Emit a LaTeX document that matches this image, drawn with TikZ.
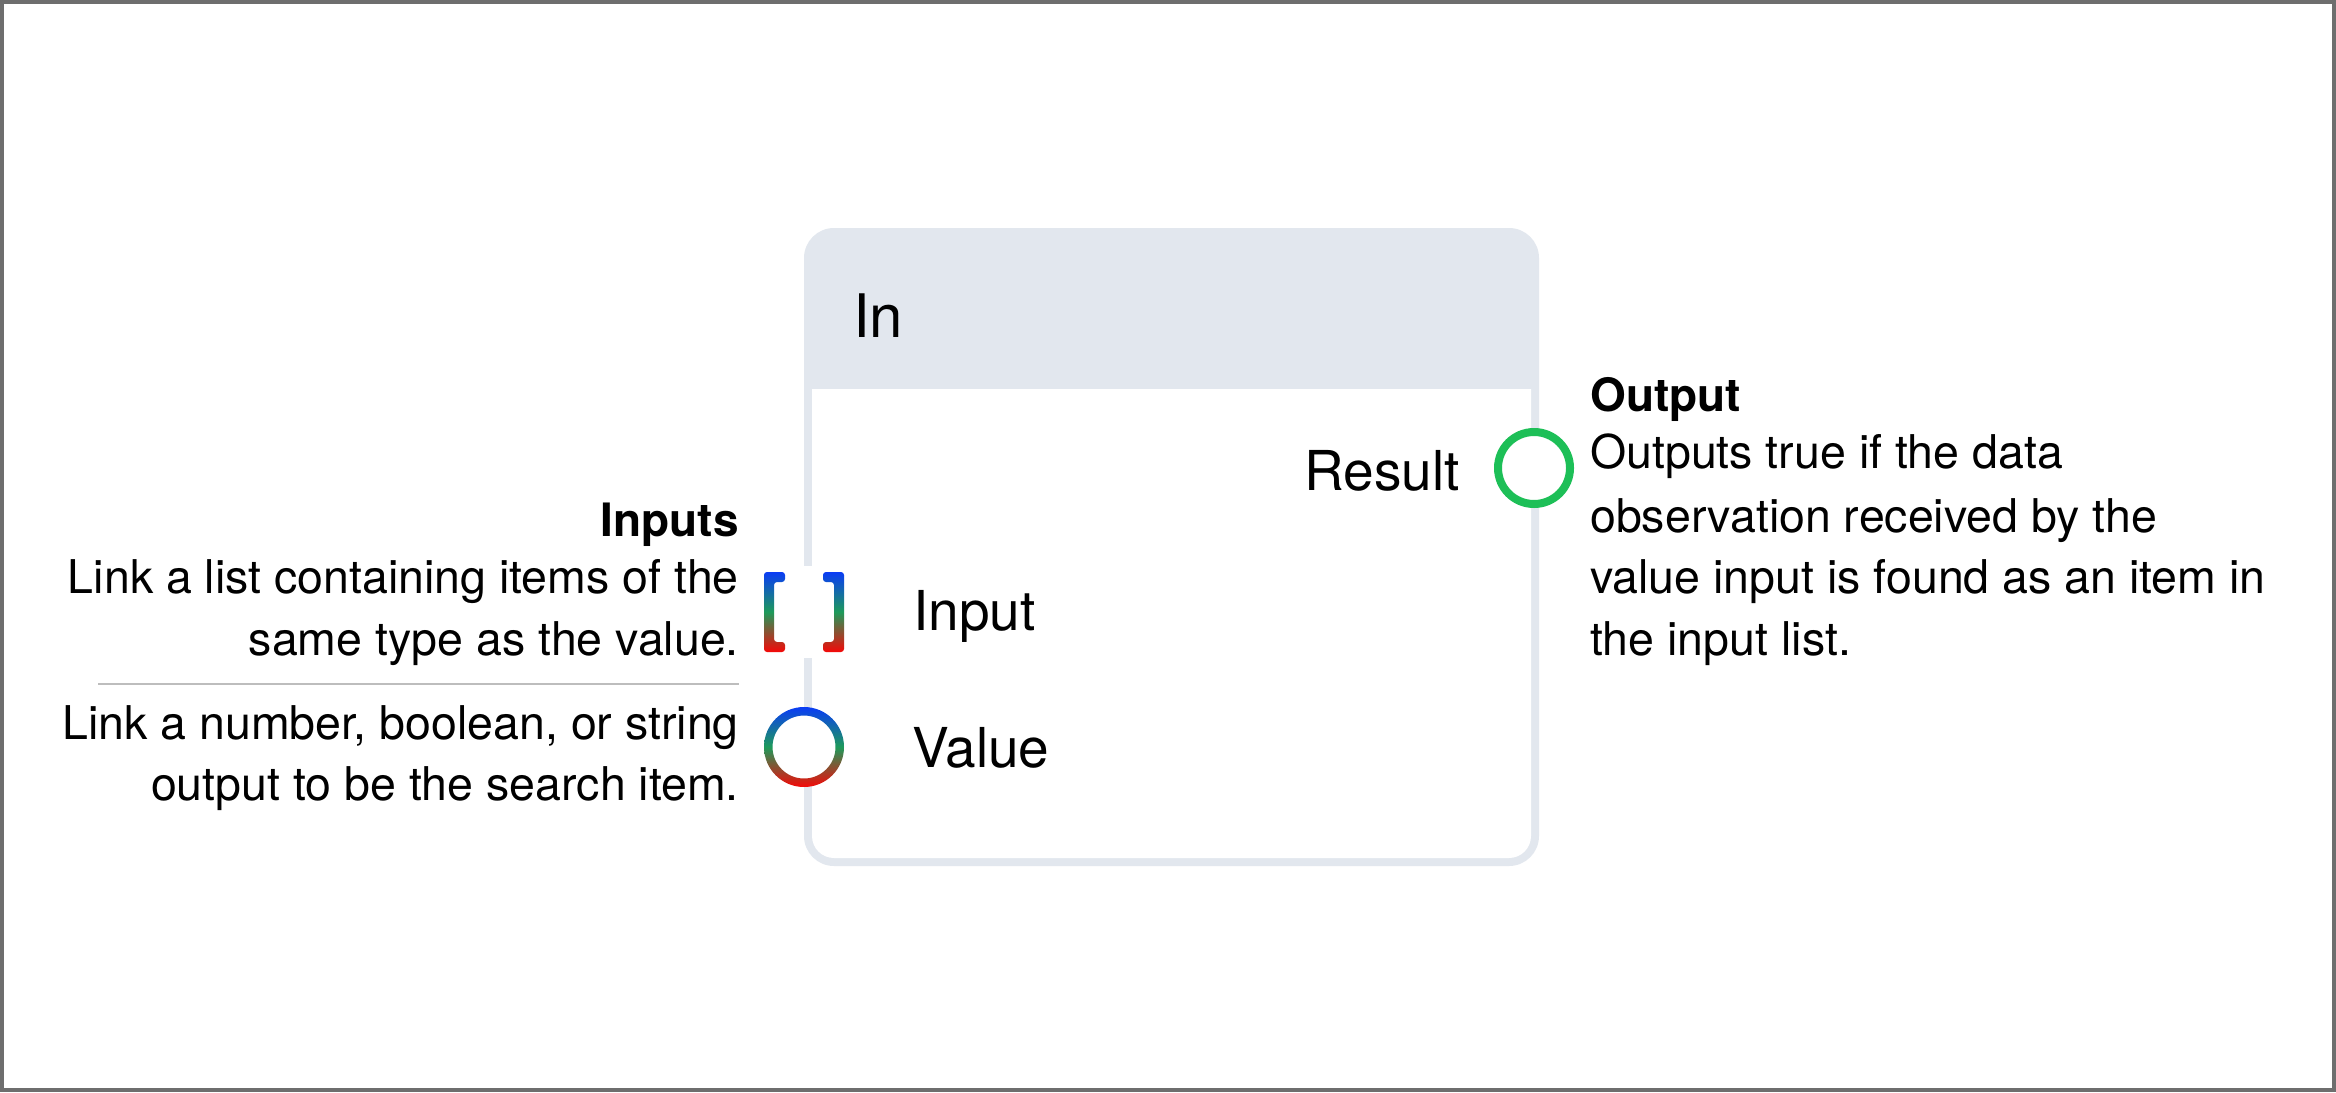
\documentclass[tikz,border=0pt]{standalone}
\usepackage{fontspec}
\setmainfont{TeX Gyre Heros}
\definecolor{framegray}{HTML}{6E6E6E}
\definecolor{hdr}{HTML}{E2E7EE}
\definecolor{pblue}{HTML}{0A3CF5}
\definecolor{pgreen}{HTML}{1E9A5A}
\definecolor{pred}{HTML}{F50808}
\definecolor{resgreen}{HTML}{1DBF57}
\definecolor{sepgray}{HTML}{BDBDBD}
\begin{document}
\begin{tikzpicture}[x=1pt,y=-1pt,
  lbl/.style={inner sep=0pt, font=\fontsize{55}{66}\selectfont},
  desc/.style={inner sep=0pt, font=\fontsize{46.5}{60}\selectfont},
  deschd/.style={inner sep=0pt, font=\fontsize{46}{60}\selectfont\bfseries},
  portgrad/.style={top color=pblue, bottom color=pred, middle color=pgreen}]
\useasboundingbox (0,0) rectangle (2336,1092);
\fill[white] (0,0) rectangle (2336,1092);
\draw[framegray, line width=4pt] (2,2) rectangle (2334,1090);

% node body
\fill[hdr, rounded corners=30pt] (804,228) rectangle (1539,866);
\fill[white] (812,389) -- (1531,389) [rounded corners=22pt] -- (1531,858) -- (812,858) [sharp corners] -- cycle;

% input port (list bracket)
\fill[white] (758,566) rectangle (850,658);
\shade[portgrad, rounded corners=3pt]
  (785,572) -- (764,572) -- (764,652) -- (785,652) -- (785,642) -- (774,642) -- (774,582) -- (785,582) -- cycle
  (823,572) -- (844,572) -- (844,652) -- (823,652) -- (823,642) -- (834,642) -- (834,582) -- (823,582) -- cycle;

% value port
\coordinate (vport) at (804,747);
\fill[white] (vport) circle (36);
\shade[portgrad, even odd rule] (vport) circle (40) (vport) circle (31.5);

% result port
\coordinate (rport) at (1534,468);
\draw[resgreen, line width=8pt, fill=white] (rport) circle (36);

% port labels
\node[lbl, anchor=base west, font=\fontsize{60}{70}\selectfont] (title) at (853,337) {In};
\node[lbl, anchor=base east] (result) at (1460,490) {Result};
\node[lbl, anchor=base west] (input) at (913,630) {Input};
\node[lbl, anchor=base west] (value) at (912,767) {Value};

% left descriptions
\node[deschd, anchor=base east] (inhd) at (739,536) {Inputs};
\node[desc, anchor=base east] (in1) at (739,593) {Link a list containing items of the};
\node[desc, anchor=base east] (in2) at (739,655) {same type as the value.};
\coordinate (sepL) at (98,684);
\coordinate (sepR) at (739,684);
\draw[sepgray, line width=2pt] (sepL) -- (sepR);
\node[desc, anchor=base east] (v1) at (739,739) {Link a number, boolean, or string};
\node[desc, anchor=base east] (v2) at (739,800) {output to be the search item.};

% right description
\node[deschd, anchor=base west] (outhd) at (1590,411) {Output};
\node[desc, anchor=base west] (o1) at (1590,468) {Outputs true if the data};
\node[desc, anchor=base west] (o2) at (1590,532) {observation received by the};
\node[desc, anchor=base west] (o3) at (1590,593) {value input is found as an item in};
\node[desc, anchor=base west] (o4) at (1590,655) {the input list.};
\end{tikzpicture}
\end{document}
